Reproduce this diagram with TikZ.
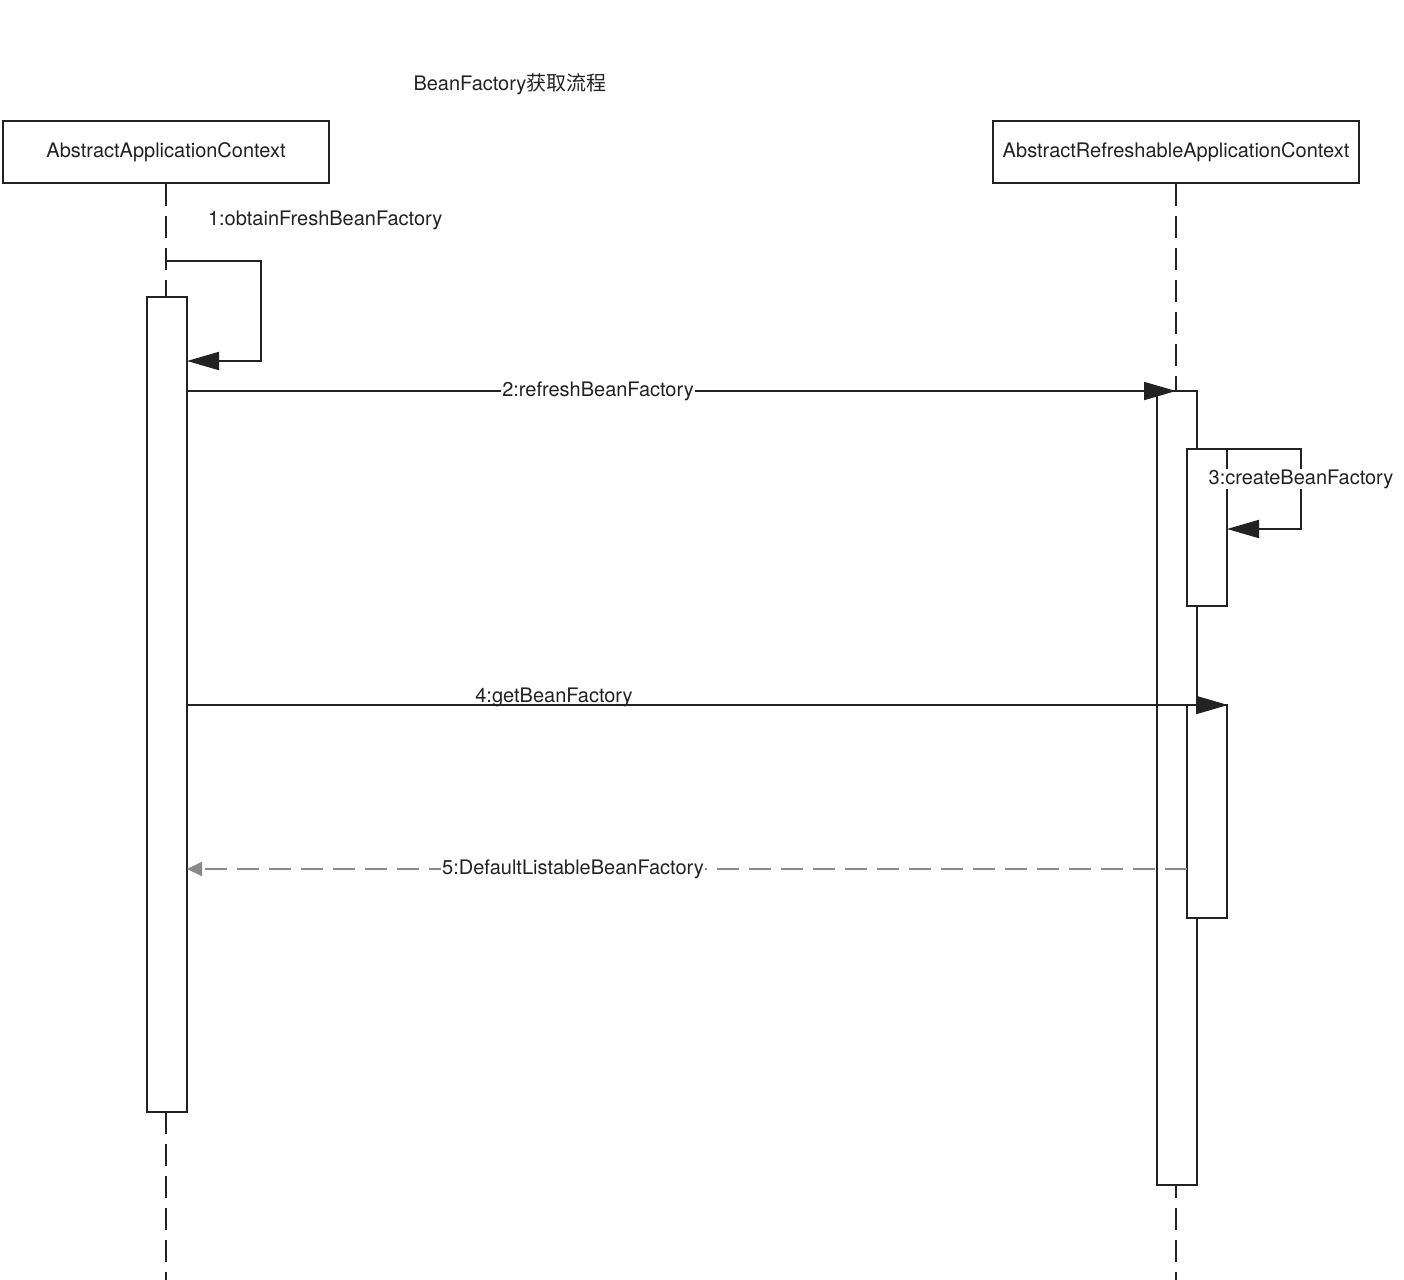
\documentclass[tikz,border=0pt]{standalone}
\usepackage{fontspec}
\setmainfont{TeX Gyre Heros}
\newfontfamily\cjk{Noto Sans CJK SC}
\usetikzlibrary{arrows.meta}
\definecolor{ink}{HTML}{222222}
\definecolor{retgray}{HTML}{888888}
\begin{document}
\begin{tikzpicture}[x=0.5pt,y=-0.5pt,line width=1pt,draw=ink,
  every node/.style={font=\fontsize{10}{12}\selectfont,text=ink},
  headbox/.style={draw=ink,fill=white,minimum height=31pt,inner sep=0pt},
  actbar/.style={draw=ink,fill=white,minimum width=20pt,inner sep=0pt},
  lifeline/.style={draw=ink,dash pattern=on 11pt off 5pt},
  msg/.style={draw=ink,-{Triangle[length=16pt,width=9pt]}},
  retmsg/.style={draw=retgray,dash pattern=on 11pt off 5pt,-{Triangle[length=7.5pt,width=7pt]}},
  lbl/.style={inner sep=0.5pt},
  lblw/.style={inner sep=0.5pt,fill=white}]
\path[use as bounding box,fill=white] (0,0) rectangle (1404,1280);

% title
\node[lbl] (title) at (510,84) {BeanFactory{\cjk 获取流程}};

% heads
\node[headbox,minimum width=163pt] (h1) at (166,152) {\raisebox{-1pt}{AbstractApplicationContext}};
\node[headbox,minimum width=183pt] (h2) at (1176,152) {\raisebox{-1pt}{AbstractRefreshableApplicationContext}};

% end coordinates of lifelines
\coordinate (e1) at (166,1280);
\coordinate (e2) at (1176,1280);

% lifelines
\draw[lifeline] (h1.south) -- (e1);
\draw[lifeline] (h2.south) -- (e2);

% activation bars
\node[actbar,minimum height=407.5pt] (a1) at (167,704.5) {};
\node[actbar,minimum height=397pt] (a2) at (1177,788) {};
\node[actbar,minimum height=78.5pt] (a3) at (1207,527.5) {};
\node[actbar,minimum height=106.5pt] (a4) at (1207,811.5) {};

% 1: self call
\coordinate (s1) at (166,261);
\coordinate (t1) at (187,361);
\draw[msg] (s1) -- (261,261) -- (261,361) -- (t1);
\node[lbl,anchor=west] (l1) at (206,220) {1:obtainFreshBeanFactory};

% 2: refreshBeanFactory
\coordinate (s2) at (187,391);
\coordinate (t2) at (1176,391);
\draw[msg] (s2) -- (t2);
\node[lblw] (l2) at (598,391) {2:refreshBeanFactory};

% 3: createBeanFactory (self call)
\coordinate (s3) at (1227,449);
\coordinate (t3) at (1227,529);
\draw[msg] (s3) -- (1301,449) -- (1301,529) -- (t3);
\node[lblw] (l3) at (1301,479) {3:createBeanFactory};

% 4: getBeanFactory
\coordinate (s4) at (187,705);
\coordinate (t4) at (1228,705);
\draw[msg] (s4) -- (t4);
\node[lbl] (l4) at (554,697) {4:getBeanFactory};

% 5: return
\coordinate (s5) at (1187,869);
\coordinate (t5) at (187,869);
\draw[retmsg] (s5) -- (t5);
\node[lblw] (l5) at (573,869) {5:DefaultListableBeanFactory};
\end{tikzpicture}
\end{document}
